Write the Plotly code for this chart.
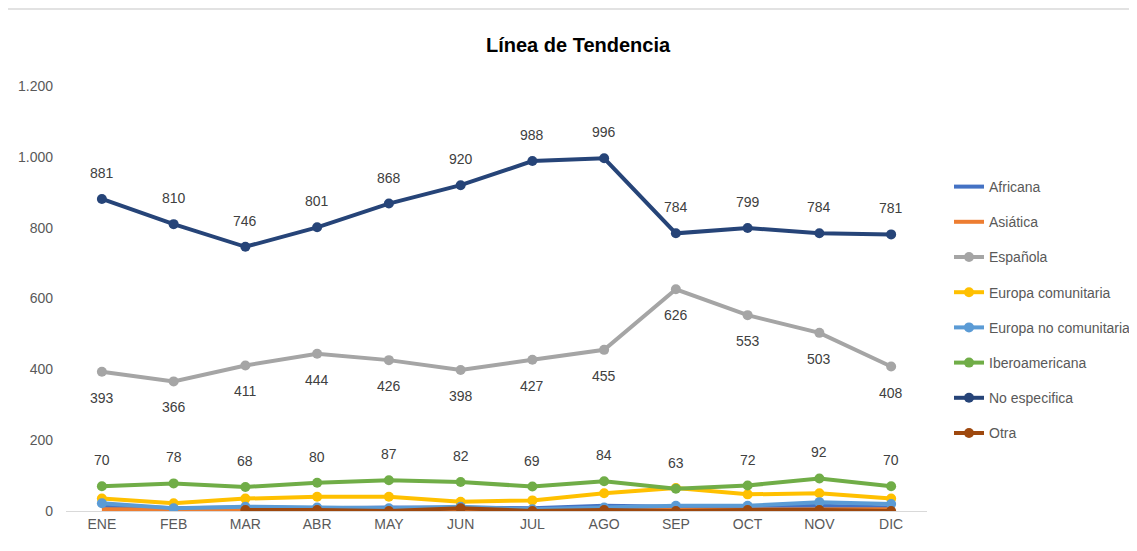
import plotly.graph_objects as go

months = ["ENE", "FEB", "MAR", "ABR", "MAY", "JUN", "JUL", "AGO", "SEP", "OCT", "NOV", "DIC"]

africana = [15, 8, 10, 8, 10, 10, 8, 15, 12, 12, 15, 10]
asiatica = [5, 3, 3, 3, 3, 5, 3, 3, 3, 5, 5, 5]
espanola = [393, 366, 411, 444, 426, 398, 427, 455, 626, 553, 503, 408]
europa_com = [35, 22, 35, 40, 40, 26, 30, 50, 65, 47, 50, 35]
europa_nocom = [22, 8, 12, 10, 8, 12, 5, 10, 15, 15, 25, 20]
iberoamericana = [70, 78, 68, 80, 87, 82, 69, 84, 63, 72, 92, 70]
no_especifica = [881, 810, 746, 801, 868, 920, 988, 996, 784, 799, 784, 781]
otra = [None, None, 3, 3, 0, 8, 0, 3, 0, 3, 3, 0]

series = [
    ("Africana", africana, "#4472C4", False),
    ("Asiática", asiatica, "#ED7D31", False),
    ("Española", espanola, "#A5A5A5", True),
    ("Europa comunitaria", europa_com, "#FFC000", True),
    ("Europa no comunitaria", europa_nocom, "#5B9BD5", True),
    ("Iberoamericana", iberoamericana, "#70AD47", True),
    ("No especifica", no_especifica, "#264478", True),
    ("Otra", otra, "#9E480E", True),
]

FONT = "Liberation Sans Narrow, Arial Narrow, Liberation Sans, Arial, sans-serif"

# page offset of 8px (body margin) is compensated in the margins below
L, R, T, B = 58, 218, 78, 48
W = 1137 - L - R
H = 551 - T - B

fig = go.Figure()
for i, (name, vals, color, mk) in enumerate(series):
    fig.add_trace(go.Scatter(
        x=months, y=vals, name=name, legendgroup=f"g{i}",
        mode="lines+markers" if mk else "lines",
        line=dict(color=color, width=4),
        marker=dict(color=color, size=10),
        connectgaps=False,
    ))

annotations = []
for vals, shift in [(no_especifica, 26), (espanola, -26), (iberoamericana, 26)]:
    for m, v in zip(months, vals):
        annotations.append(dict(
            x=m, y=v, text=f"{v}", showarrow=False, yshift=shift,
            font=dict(size=14, color="#404040", family=FONT),
        ))

annotations.append(dict(
    text="<b>Línea de Tendencia</b>", xref="paper", yref="paper",
    x=(578 - 66) / W, y=1 + (86 - 45) / H, showarrow=False,
    xanchor="center", yanchor="middle",
    font=dict(size=20, color="#000000", family=FONT),
))

fig.update_layout(
    width=1137, height=551,
    margin=dict(l=L, r=R, t=T, b=B, autoexpand=False),
    paper_bgcolor="white", plot_bgcolor="white",
    font=dict(family=FONT, color="#595959", size=14),
    showlegend=True,
    legend=dict(
        x=1 + 22 / W, y=1 - (171 - 86) / H, xanchor="left", yanchor="top",
        traceorder="grouped", tracegroupgap=14,
        font=dict(size=14, color="#595959", family=FONT),
        itemwidth=30,
    ),
    annotations=annotations,
    shapes=[dict(type="rect", xref="paper", yref="paper",
                 x0=-60.5 / W, x1=1 + 230 / W, y0=-60 / H, y1=1 + 77 / H,
                 line=dict(color="#D9D9D9", width=1.5))],
    separators=",.",
)
fig.update_xaxes(
    range=[-0.5, len(months) - 0.5],
    showgrid=False, showline=True, linecolor="#D9D9D9", linewidth=1,
    ticks="", tickfont=dict(size=14, color="#595959"), zeroline=False,
    automargin=False,
)
fig.update_yaxes(
    range=[0, 1200], dtick=200, showgrid=False, zeroline=False, showline=False,
    tickformat=",d",
    tickfont=dict(size=14, color="#595959"), ticklabelstandoff=12,
    automargin=False,
)

fig.write_html("out.html")
